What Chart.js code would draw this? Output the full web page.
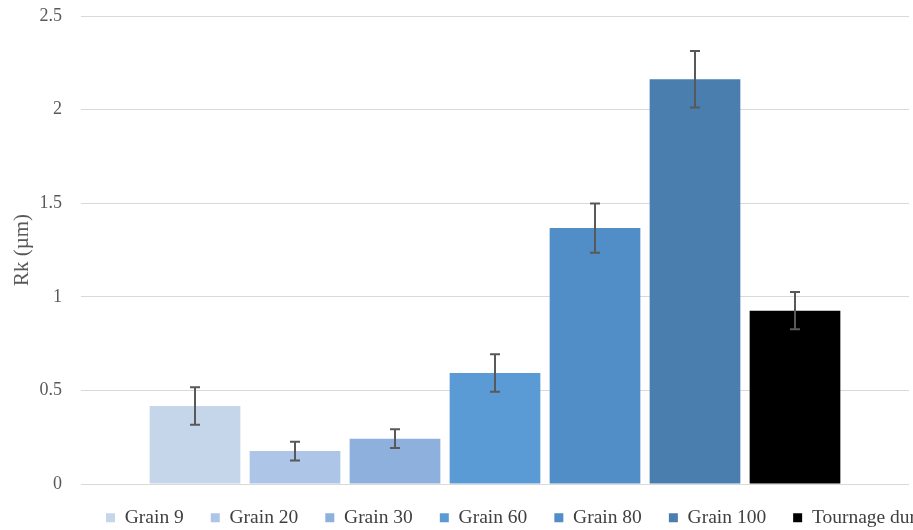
<!DOCTYPE html>
<html>
<head>
<meta charset="utf-8">
<script src="https://cdn.jsdelivr.net/npm/chart.js@4/dist/chart.umd.min.js"></script>
<style>
  html, body { margin: 0; padding: 0; background: #ffffff; overflow: hidden; }
  #wrap { position: relative; width: 913px; height: 530px; }
</style>
</head>
<body>
<div id="wrap"><canvas id="c" width="913" height="530"></canvas></div>
<script>
// ---- data ----
const seriesNames = ['Grain 9', 'Grain 20', 'Grain 30', 'Grain 60', 'Grain 80', 'Grain 100', 'Tournage dur'];
const rkValues    = [0.417, 0.176, 0.242, 0.593, 1.367, 2.162, 0.926];
const rkErrors    = [0.100, 0.050, 0.050, 0.100, 0.132, 0.151, 0.100];
const yTickLabels = ['0', '0.5', '1', '1.5', '2', '2.5'];
const yAxisTitle  = 'Rk (µm)';

// ---- styles ----
const seriesColors = ['#c5d6eb', '#adc6e7', '#8db0dc', '#5b9bd5', '#518dc6', '#4a7eaf', '#000000'];
const FONT = "'Liberation Serif', 'DejaVu Serif', serif";

const datasets = seriesNames.map((name, i) => ({
  label: name,
  data: [rkValues[i]],
  backgroundColor: seriesColors[i],
  borderWidth: 0,
  categoryPercentage: 0.8454,
  barPercentage: 0.907
}));

const errorBars = {
  id: 'errorBars',
  afterDatasetsDraw(chart) {
    const ctx = chart.ctx;
    const ys = chart.scales.y;
    chart.data.datasets.forEach((ds, i) => {
      if (!chart.isDatasetVisible(i)) return;
      const meta = chart.getDatasetMeta(i);
      meta.data.forEach((bar, j) => {
        const v = ds.data[j];
        const e = rkErrors[i];
        const x = bar.x;
        const yt = ys.getPixelForValue(v + e);
        const yb = ys.getPixelForValue(v - e);
        ctx.save();
        ctx.strokeStyle = '#595959';
        ctx.lineWidth = 2;
        ctx.beginPath();
        ctx.moveTo(x, yt); ctx.lineTo(x, yb);
        ctx.moveTo(x - 5, yt); ctx.lineTo(x + 5, yt);
        ctx.moveTo(x - 5, yb); ctx.lineTo(x + 5, yb);
        ctx.stroke();
        ctx.restore();
      });
    });
  }
};

// position the legend row like the original (left-anchored, running off the right edge)
const legendPlace = {
  id: 'legendPlace',
  afterLayout(chart) {
    const l = chart.legend;
    if (!l) return;
    const pad = l.options.labels.padding;
    l.left = 106 - pad;
    l.right = l.left + 1100;
    l.top = 481;
    l.bottom = 530;
  }
};

new Chart(document.getElementById('c'), {
  type: 'bar',
  data: { labels: [''], datasets },
  plugins: [errorBars, legendPlace],
  options: {
    responsive: false,
    animation: false,
    layout: { padding: { top: 16, right: 4, left: 0, bottom: 0 } },
    scales: {
      x: { display: false },
      y: {
        min: 0, max: 2.5,
        afterFit(scale) { scale.width = 81; scale.paddingTop = 0; scale.paddingBottom = 0; },
        border: { display: false },
        grid: { color: '#d9d9d9', lineWidth: 1, drawTicks: false },
        ticks: {
          stepSize: 0.5,
          padding: 19,
          color: '#595959',
          font: { family: FONT, size: 18 },
          callback: (v, idx) => yTickLabels[idx]
        },
        title: {
          display: true,
          text: yAxisTitle,
          color: '#595959',
          padding: { top: 10, bottom: 0 },
          font: { family: FONT, size: 21 }
        }
      }
    },
    plugins: {
      tooltip: { enabled: false },
      legend: {
        position: 'bottom',
        align: 'start',
        maxHeight: 46,
        labels: {
          boxWidth: 9,
          boxHeight: 9,
          padding: 27,
          color: '#404040',
          font: { family: FONT, size: 19.5 }
        }
      }
    }
  }
});
</script>
</body>
</html>
